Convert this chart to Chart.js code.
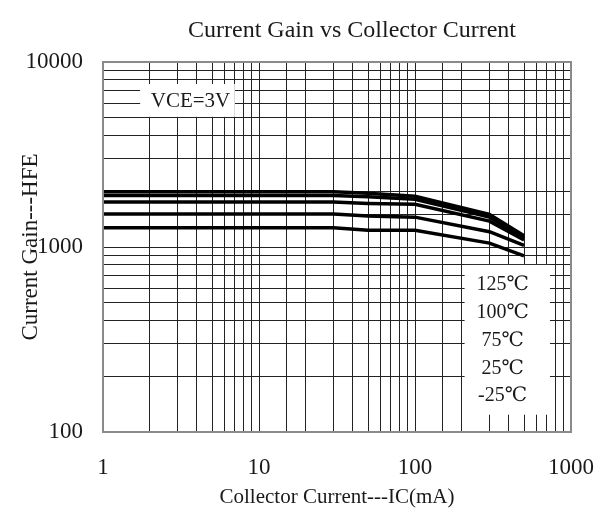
<!DOCTYPE html>
<html lang="en">
<head>
<meta charset="UTF-8">
<title>Current Gain vs Collector Current</title>
<script src="https://cdn.jsdelivr.net/npm/chart.js"></script>
<style>
  html, body { margin: 0; padding: 0; background: #fff; }
</style>
</head>
<body>
<canvas id="hfeChart" width="605" height="514"></canvas>

<script>
    // collector current (mA) and hFE read for each temperature
    const currentMA = [1, 30, 50, 100, 300, 500];
    const tempLabels = ['125℃', '100℃', '75℃', '25℃', '-25℃'];
    const hfe125 = [1990, 1990, 1950, 1880, 1500, 1150];
    const hfe100 = [1900, 1900, 1870, 1810, 1450, 1120];
    const hfe75 = [1750, 1750, 1720, 1700, 1380, 1090];
    const hfe25 = [1510, 1510, 1470, 1450, 1210, 1020];
    const hfeM25 = [1270, 1270, 1230, 1230, 1050, 895];
    const xTickLabels = [1, 10, 100, 1000];
    const yTickLabels = [100, 1000, 10000];

    const serif = "'Liberation Serif', 'DejaVu Serif', serif";
    const ink = '#1a1a1a';
    const chartTitle = 'Current Gain vs Collector Current';

    const series = [hfe125, hfe100, hfe75, hfe25, hfeM25];
    const datasets = series.map((vals, i) => ({
        label: tempLabels[i],
        data: currentMA.map((ic, j) => ({ x: ic, y: vals[j] })),
        borderColor: '#000',
        borderWidth: 3.5,
        pointRadius: 0,
        tension: 0,
        fill: false
    }));

    // white note boxes, title and outer frame
    const overlays = {
        id: 'overlays',
        beforeDatasetsDraw(chart) {
            const { ctx, scales: { x, y } } = chart;
            ctx.save();
            ctx.fillStyle = '#fff';
            // VCE note
            let x0 = x.getPixelForValue(1.73), x1 = x.getPixelForValue(7.0);
            let y0 = y.getPixelForValue(7600), y1 = y.getPixelForValue(5050);
            ctx.fillRect(x0, y0, x1 - x0, y1 - y0);
            ctx.font = '21px ' + serif;
            ctx.fillStyle = ink;
            ctx.textAlign = 'center';
            ctx.textBaseline = 'middle';
            ctx.fillText('VCE=3V', (x0 + x1) / 2 + 3, (y0 + y1) / 2 + 1);

            // temperature legend
            x0 = x.getPixelForValue(208); x1 = x.getPixelForValue(733);
            y0 = y.getPixelForValue(800); y1 = y.getPixelForValue(124);
            ctx.fillStyle = '#fff';
            ctx.fillRect(x0, y0, x1 - x0, y1 - y0);
            ctx.fillStyle = ink;
            ctx.font = '20px ' + serif;
            const cx = x0 + 38;
            tempLabels.forEach((t, i) => {
                ctx.fillText(t, cx, y0 + 20 + i * 27.8);
            });
            ctx.restore();
        },
        afterDraw(chart) {
            const { ctx, chartArea: a } = chart;
            ctx.save();
            ctx.strokeStyle = '#8a8a8a';
            ctx.lineWidth = 2;
            ctx.strokeRect(a.left, a.top, a.right - a.left, a.bottom - a.top);
            ctx.font = '24px ' + serif;
            ctx.fillStyle = ink;
            ctx.textAlign = 'center';
            ctx.textBaseline = 'middle';
            ctx.fillText(chartTitle, (a.left + a.right) / 2 + 15, a.top - 31);
            ctx.restore();
        }
    };

    const gridOpts = { color: '#222', lineWidth: 1, drawTicks: false };

    new Chart(document.getElementById('hfeChart'), {
        type: 'line',
        data: { datasets },
        plugins: [overlays],
        options: {
            responsive: false,
            animation: false,
            layout: { padding: { left: 0, right: 34, top: 62, bottom: 0 } },
            plugins: {
                legend: { display: false },
                tooltip: { enabled: false },
                title: { display: false }
            },
            scales: {
                x: {
                    type: 'logarithmic',
                    min: 1,
                    max: 1000,
                    grid: gridOpts,
                    border: { display: false },
                    ticks: {
                        autoSkip: false,
                        maxRotation: 0,
                        padding: 22,
                        color: ink,
                        font: { family: serif, size: 23 },
                        callback: v => xTickLabels.includes(v) ? String(v) : ''
                    },
                    title: {
                        display: true,
                        text: 'Collector Current---IC(mA)',
                        color: ink,
                        font: { family: serif, size: 21 },
                        padding: { top: 0, bottom: 4 }
                    },
                    afterFit: s => {
                        s.height = 82;
                        s.paddingLeft = 0;
                        s.paddingRight = 0;
                    }
                },
                y: {
                    type: 'logarithmic',
                    min: 100,
                    max: 10000,
                    grid: gridOpts,
                    border: { display: false },
                    ticks: {
                        autoSkip: false,
                        padding: 20,
                        color: ink,
                        font: { family: serif, size: 23 },
                        callback: v => yTickLabels.includes(v) ? String(v) : ''
                    },
                    title: {
                        display: true,
                        text: 'Current Gain---HFE',
                        color: ink,
                        font: { family: serif, size: 23 },
                        padding: { top: 17, bottom: 0 }
                    },
                    afterFit: s => { s.width = 103; }
                }
            }
        }
    });
</script>
</body>
</html>
